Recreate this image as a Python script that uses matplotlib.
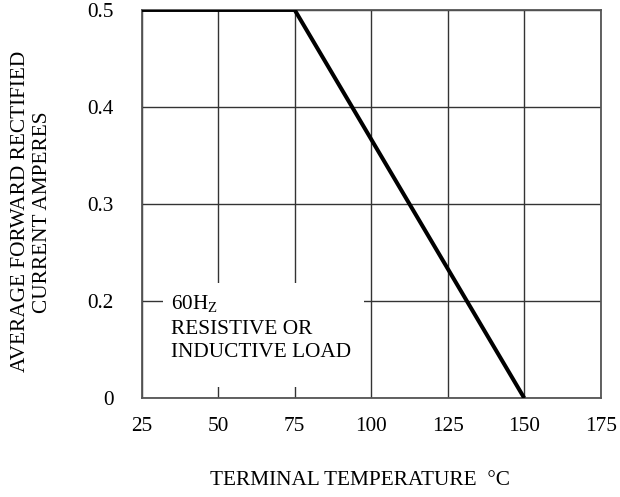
import numpy as np
import matplotlib.pyplot as plt
from matplotlib.patches import Rectangle

# данные кривой снижения тока
temp = [25, 75, 150]
current = [0.5, 0.5, 0.0]

x_ticks = [25, 50, 75, 100, 125, 150, 175]
y_tick_labels = ['0', '0.2', '0.3', '0.4', '0.5']

plt.rcParams['font.family'] = ['Liberation Serif', 'DejaVu Sans']
plt.rcParams['mathtext.fontset'] = 'custom'
plt.rcParams['mathtext.rm'] = 'Liberation Serif'

fs = 15.3

fig = plt.figure(figsize=(6.2, 4.97), dpi=100)
ax = fig.add_axes([0.2285, 0.199, 0.7405, 0.781])

ax.plot(temp, current, color='black', linewidth=2.9, solid_capstyle='butt', zorder=3)

ax.set_xlim(25, 175)
ax.set_ylim(0, 0.5)
ax.set_xticks(x_ticks)
ax.set_xticklabels([str(t) for t in x_ticks])
# на оригинале метки оси Y стоят с равным шагом
ax.set_yticks(np.linspace(0, 0.5, len(y_tick_labels)))
ax.set_yticklabels(y_tick_labels)
ax.tick_params(axis='x', length=0, labelsize=fs, pad=13.5)
ax.tick_params(axis='y', length=0, labelsize=fs, pad=20)

ax.set_axisbelow(True)
ax.grid(True, color='#333333', linewidth=1.0)
for s in ax.spines.values():
    s.set_color('#555555')
    s.set_linewidth(1.3)

# белая подложка под надписью
ax.add_patch(Rectangle((32, 0.014), 65.6, 0.134, facecolor='white',
                       edgecolor='none', zorder=1.5))
ax.text(34.5, 0.1205, r'60H$_{\mathrm{Z}}$', fontsize=fs, va='center', ha='left', zorder=2)
ax.text(34.5, 0.0735, 'RESISTIVE OR\nINDUCTIVE LOAD', fontsize=fs, va='center',
        ha='left', linespacing=1.32, zorder=2)

ax.set_ylabel('AVERAGE FORWARD RECTIFIED\nCURRENT AMPERES', fontsize=fs,
              linespacing=1.2)
ax.yaxis.set_label_coords(-0.195, 0.48)
fig.text(0.581, 0.034, 'TERMINAL TEMPERATURE  \u00b0C', fontsize=fs,
         ha='center', va='center')

plt.savefig('out.png', dpi=100)
